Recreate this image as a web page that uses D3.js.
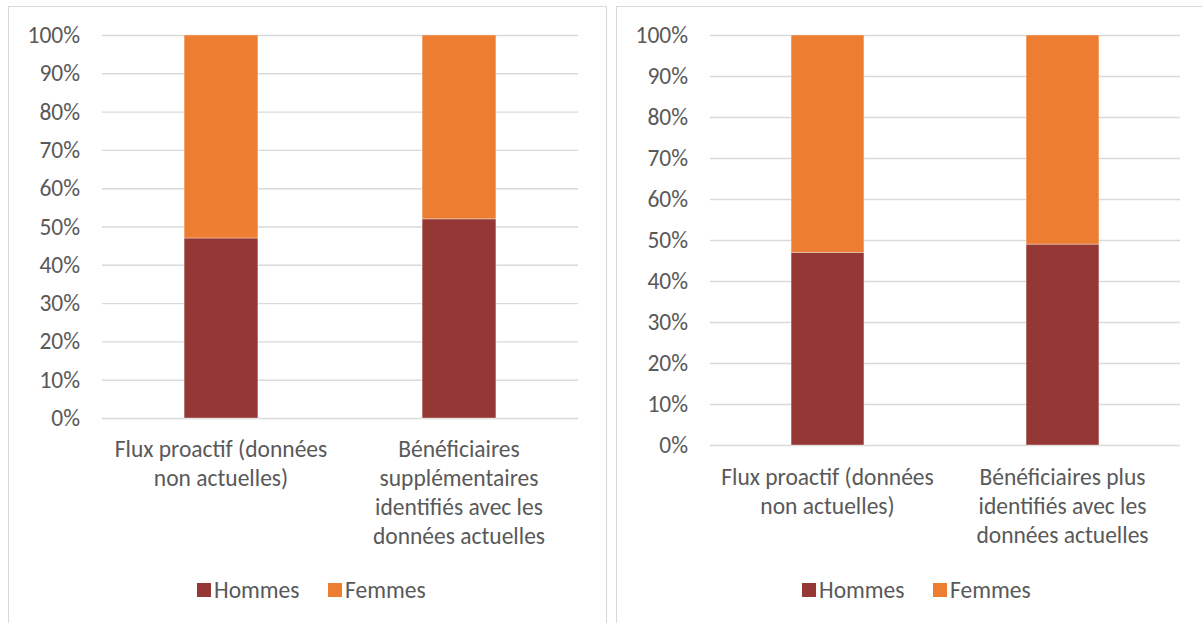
<!DOCTYPE html>
<html>
<head>
<meta charset="utf-8">
<script src="https://cdn.jsdelivr.net/npm/d3@7"></script>
<style>
  html, body { margin: 0; padding: 0; background: #fff; }
  svg { display: block; }
  text { font-family: Carlito, Calibri, Lato, "Open Sans", sans-serif; fill: #595959; }
</style>
</head>
<body>
<svg id="chart" width="1202" height="623"></svg>
<script>
// Gender split (share of total) for two groups of beneficiaries, two panels
const seriesNames = ["Hommes", "Femmes"];
const seriesColors = ["#953735", "#ED7D31"];

const categoriesA = ["Flux proactif (données\nnon actuelles)",
                     "Bénéficiaires\nsupplémentaires\nidentifiés avec les\ndonnées actuelles"];
const hommesA = [0.47, 0.52];
const femmesA = [0.53, 0.48];

const categoriesB = ["Flux proactif (données\nnon actuelles)",
                     "Bénéficiaires plus\nidentifiés avec les\ndonnées actuelles"];
const hommesB = [0.47, 0.49];
const femmesB = [0.53, 0.51];

const yTicks = [0, 0.1, 0.2, 0.3, 0.4, 0.5, 0.6, 0.7, 0.8, 0.9, 1.0];

const svg = d3.select("#chart");
const fontSize = 23.5;
const lineHeight = 29;

function drawPanel(cfg) {
  const g = svg.append("g");

  // panel frame
  g.append("rect")
    .attr("x", cfg.frame[0] + 0.5).attr("y", cfg.frame[1] + 0.5)
    .attr("width", cfg.frame[2]).attr("height", cfg.frame[3])
    .attr("fill", "#fff").attr("stroke", "#d9d9d9").attr("stroke-width", 1);

  const x = d3.scaleBand()
    .domain(cfg.categories)
    .range([cfg.plot.left, cfg.plot.right])
    .paddingInner(0.69).paddingOuter(0.345);
  const y = d3.scaleLinear().domain([0, 1]).range([cfg.plot.bottom, cfg.plot.top]);

  // horizontal gridlines + percentage labels
  const yAxis = d3.axisLeft(y)
    .tickValues(yTicks)
    .tickFormat(d3.format(".0%"))
    .tickSize(-(cfg.plot.right - cfg.plot.left))
    .tickPadding(22);
  const ax = g.append("g")
    .attr("transform", `translate(${cfg.plot.left},0)`)
    .call(yAxis);
  ax.select(".domain").remove();
  ax.attr("font-family", null).attr("font-size", null);
  ax.selectAll(".tick line").attr("stroke", "#d9d9d9").attr("stroke-width", 1.4);
  ax.selectAll(".tick text")
    .attr("font-size", fontSize)
    .attr("fill", "#595959");

  // stacked bars
  const rows = cfg.categories.map((c, i) => ({ cat: c, Hommes: cfg.hommes[i], Femmes: cfg.femmes[i] }));
  const stacked = d3.stack().keys(seriesNames)(rows);
  g.append("g").selectAll("g")
    .data(stacked)
    .join("g")
    .attr("fill", (d, i) => seriesColors[i])
    .selectAll("rect")
    .data(d => d)
    .join("rect")
    .attr("x", d => x(d.data.cat))
    .attr("width", x.bandwidth())
    .attr("y", d => y(d[1]))
    .attr("height", d => y(d[0]) - y(d[1]))
    .attr("stroke", "#ffffff").attr("stroke-opacity", 0.45).attr("stroke-width", 0.8);

  // category labels (wrapped lines, centred under each bar)
  const lab = g.append("g").selectAll("text")
    .data(cfg.categories)
    .join("text")
    .attr("text-anchor", "middle")
    .attr("font-size", fontSize)
    .attr("x", d => x(d) + x.bandwidth() / 2)
    .attr("y", cfg.labelY);
  lab.selectAll("tspan")
    .data(d => d.split("\n"))
    .join("tspan")
    .attr("x", function () { return d3.select(this.parentNode).attr("x"); })
    .attr("dy", (d, i) => i === 0 ? 0 : lineHeight)
    .text(d => d);

  // legend
  const leg = g.append("g").attr("transform", `translate(0,${cfg.legendY})`);
  const items = leg.selectAll("g")
    .data(seriesNames)
    .join("g")
    .attr("transform", (d, i) => `translate(${cfg.legendX[i]},0)`);
  items.append("rect")
    .attr("x", 0).attr("y", -7).attr("width", 14).attr("height", 14)
    .attr("fill", (d, i) => seriesColors[i]);
  items.append("text")
    .attr("x", 17).attr("y", 0).attr("dy", "0.35em")
    .attr("font-size", fontSize)
    .text(d => d);
}

drawPanel({
  frame: [8, 6, 598, 640],
  plot: { left: 102, right: 578, top: 35, bottom: 418 },
  categories: categoriesA, hommes: hommesA, femmes: femmesA,
  labelY: 457, legendY: 590, legendX: [197, 328]
});

drawPanel({
  frame: [616, 6, 640, 640],
  plot: { left: 710, right: 1180, top: 35, bottom: 445 },
  categories: categoriesB, hommes: hommesB, femmes: femmesB,
  labelY: 485, legendY: 590, legendX: [802, 933]
});
</script>
</body>
</html>
